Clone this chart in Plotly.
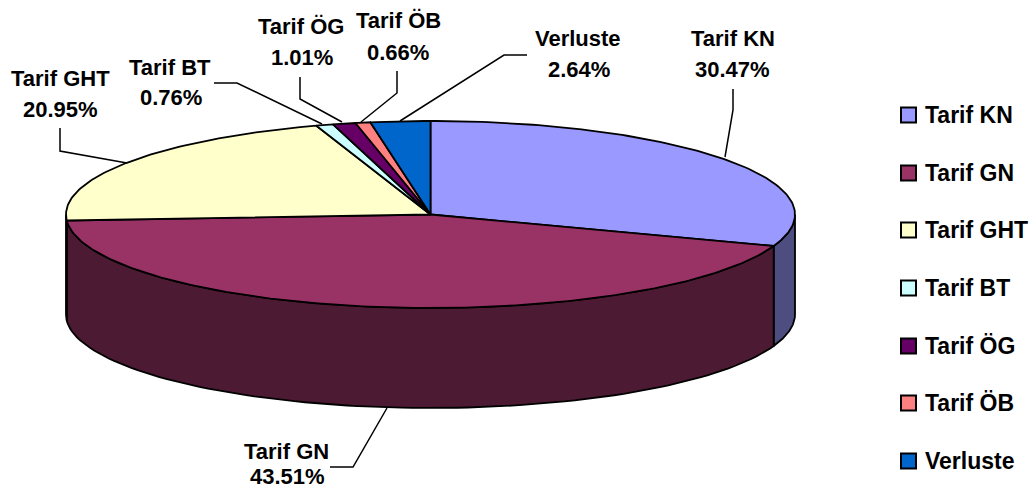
import math
import plotly.graph_objects as go

categories = ["Tarif KN", "Tarif GN", "Tarif GHT", "Tarif BT", "Tarif ÖG", "Tarif ÖB", "Verluste"]
values = [30.47, 43.51, 20.95, 0.76, 1.01, 0.66, 2.64]
percent_labels = ["30.47%", "43.51%", "20.95%", "0.76%", "1.01%", "0.66%", "2.64%"]
top_colors = ["#9999FF", "#993366", "#FFFFCC", "#CCFFFF", "#660066", "#FF8080", "#0066CC"]
side_colors = ["#4D4D80", "#4D1A33", "#808066", "#668080", "#330033", "#804040", "#003366"]

# pie geometry in pixels (axes are mapped 1:1 to the page)
CX, CY, RX, RY, DEPTH = 430.5, 214.5, 364.5, 93.5, 100
FONT = "Liberation Sans, Arial, sans-serif"
TXT = 22
LEGEND_TXT = 23
LW = 1.8

name_pos = [(733, 38), (286, 451), (60, 78), (170, 67), (301, 26), (398, 20), (578, 38)]
pct_pos = [(732, 69), (287, 476), (60, 109), (171, 97), (302, 57), (398, 52), (579, 69)]
leaders = [
    [(733, 89), (733, 110), (725, 157)],
    [(330, 467), (353, 467), (387, 408)],
    [(60, 128), (60, 151), (127, 163)],
    [(214, 83), (237, 83), (322, 124)],
    [(300, 77), (300, 99), (342, 122)],
    [(397, 71), (397, 93), (361, 122)],
    [(527, 55), (504, 55), (400, 121)],
]
legend_y = [115, 173, 230, 288, 346, 403, 461]


def pt(t):
    return CX + RX * math.sin(t), CY - RY * math.cos(t)


fig = go.Figure()


def arc(a, b, n=90):
    return [a + (b - a) * i / n for i in range(n + 1)]


total = sum(values)
bounds = [0.0]
for v in values:
    bounds.append(bounds[-1] + v / total * 2 * math.pi)

# side walls: only the front half of the ellipse (90deg..270deg) is visible
for i in range(len(values)):
    a = max(bounds[i], math.pi / 2)
    b = min(bounds[i + 1], 3 * math.pi / 2)
    if a >= b:
        continue
    ts = arc(a, b)
    upper = [pt(t) for t in ts]
    lower = [(x, y + DEPTH) for x, y in reversed(upper)]
    poly = upper + lower + [upper[0]]
    fig.add_trace(go.Scatter(x=[p[0] for p in poly], y=[p[1] for p in poly], mode="lines",
                             fill="toself", fillcolor=side_colors[i],
                             line=dict(color="black", width=LW), hoverinfo="skip", showlegend=False))

# top wedges
for i in range(len(values)):
    ts = arc(bounds[i], bounds[i + 1], max(6, int(values[i] * 4)))
    poly = [(CX, CY)] + [pt(t) for t in ts] + [(CX, CY)]
    fig.add_trace(go.Scatter(x=[p[0] for p in poly], y=[p[1] for p in poly], mode="lines",
                             fill="toself", fillcolor=top_colors[i],
                             line=dict(color="black", width=LW), name=categories[i],
                             hoverinfo="name", showlegend=False))

# leader lines
for seg in leaders:
    fig.add_trace(go.Scatter(x=[p[0] for p in seg], y=[p[1] for p in seg], mode="lines",
                             line=dict(color="black", width=1.5), hoverinfo="skip", showlegend=False))

# legend swatches
fig.add_trace(go.Scatter(x=[908.5] * len(categories), y=legend_y, mode="markers",
                         marker=dict(symbol="square", size=15, color=top_colors,
                                     line=dict(color="black", width=2)),
                         hoverinfo="skip", showlegend=False))

annotations = []
bold = dict(family=FONT, size=TXT, color="black", weight="bold")
legend_bold = dict(family=FONT, size=LEGEND_TXT, color="black", weight="bold")
for text, (x, y) in zip(categories + percent_labels, name_pos + pct_pos):
    annotations.append(dict(x=x, y=y, xref="x", yref="y", showarrow=False, text=text, font=bold))
for c, y in zip(categories, legend_y):
    annotations.append(dict(x=923, y=y, xref="x", yref="y", showarrow=False, xanchor="left",
                            text=c, font=legend_bold))

fig.update_layout(
    width=1029, height=490, autosize=False,
    margin=dict(l=0, r=0, t=0, b=0),
    paper_bgcolor="white", plot_bgcolor="white",
    xaxis=dict(range=[0, 1029], visible=False, fixedrange=True),
    yaxis=dict(range=[490, 0], visible=False, fixedrange=True),
    annotations=annotations,
    showlegend=False,
)
fig.write_html("out.html", config={"displayModeBar": False},
               post_script="document.body.style.margin='0';document.documentElement.style.overflow='hidden';")
